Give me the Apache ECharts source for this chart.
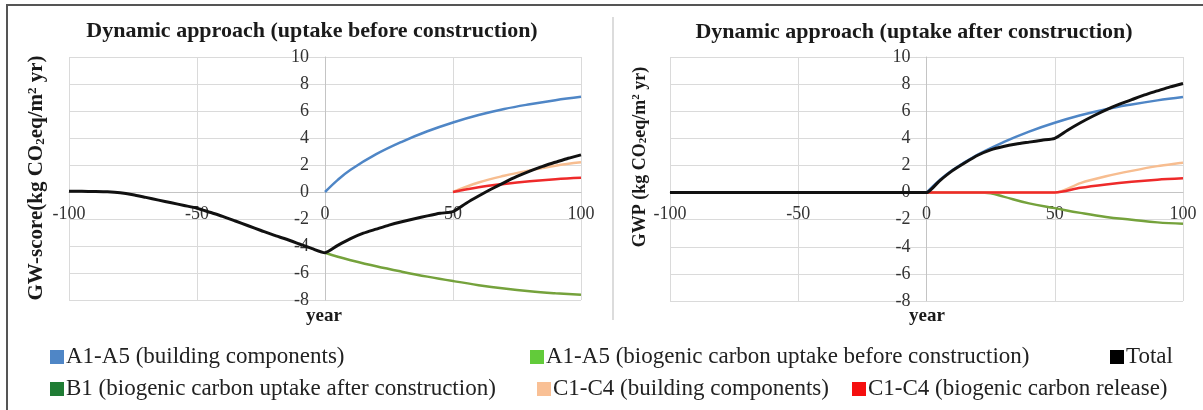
<!DOCTYPE html>
<html>
<head>
<meta charset="utf-8">
<title>Dynamic approach</title>
<script src="https://cdn.jsdelivr.net/npm/echarts/dist/echarts.min.js"></script>
<style>
  html, body { margin: 0; padding: 0; background: #fff; }
  #chart { width: 1203px; height: 410px; }
</style>
</head>
<body>
<div id="chart"></div>
<script>
// years on the x axis
const yearsTotal = [-100, -95, -90, -85, -80, -75, -70, -65, -60, -55, -50, -45, -40, -35, -30, -25, -20, -15, -10, -5,
  0, 5, 10, 15, 20, 25, 30, 35, 40, 45, 50, 55, 60, 65, 70, 75, 80, 85, 90, 95, 100];
const yearsBuild = [0, 5, 10, 20, 30, 40, 50, 60, 70, 80, 90, 100];
const yearsB1 = [0, 10, 20, 25, 30, 40, 50, 60, 70, 80, 90, 100];
const yearsEol = [50, 60, 70, 80, 90, 100];
const yearsEolFull = [0, 50, 60, 70, 80, 90, 100];

// kg CO2eq/m2 yr
const a1a5Building = [0, 0.9, 1.65, 2.8, 3.72, 4.5, 5.15, 5.7, 6.15, 6.5, 6.8, 7.05];
const a1a5UptakeBefore = [-4.5, -4.8, -5.05, -5.5, -5.9, -6.27, -6.6, -6.9, -7.15, -7.35, -7.5, -7.62];
const b1UptakeAfter = [0, 0, 0, -0.05, -0.3, -0.8, -1.15, -1.5, -1.8, -2.0, -2.2, -2.3];
const c1c4Building = [0, 0.7, 1.2, 1.6, 1.95, 2.2];
const c1c4Release = [0, 0.35, 0.6, 0.8, 0.95, 1.05];
const c1c4BuildingFull = [0, 0, 0.7, 1.2, 1.6, 1.95, 2.2];
const c1c4ReleaseFull = [0, 0, 0.35, 0.6, 0.8, 0.95, 1.05];
const totalBefore = [0.05, 0.05, 0.04, 0.02, -0.05, -0.2, -0.4, -0.6, -0.8, -1.0, -1.2, -1.5, -1.8, -2.15, -2.5, -2.85, -3.2, -3.5, -3.85, -4.2,
  -4.5, -3.95, -3.45, -3.05, -2.75, -2.45, -2.2, -1.98, -1.77, -1.58, -1.45, -0.85, -0.3, 0.22, 0.7, 1.15, 1.55, 1.9, 2.2, 2.5, 2.75];
const totalAfter = [0, 0, 0, 0, 0, 0, 0, 0, 0, 0, 0, 0, 0, 0, 0, 0, 0, 0, 0, 0,
  0, 0.85, 1.6, 2.2, 2.75, 3.15, 3.4, 3.58, 3.72, 3.86, 4.0, 4.6, 5.15, 5.65, 6.1, 6.5, 6.85, 7.2, 7.5, 7.8, 8.05];

const titles = ['Dynamic approach (uptake before construction)', 'Dynamic approach (uptake after construction)'];
const names = {
  build: 'A1-A5 (building components)',
  before: 'A1-A5 (biogenic carbon uptake before construction)',
  total: 'Total',
  after: 'B1 (biogenic carbon uptake after construction)',
  eol: 'C1-C4 (building components)',
  release: 'C1-C4 (biogenic carbon release)'
};

const serif = 'Liberation Serif';
const lineColors = { build: '#4f86c6', green: '#75a23c', eol: '#f7bd90', release: '#ee2a2a', total: '#111111' };
const iconColors = { build: '#4f86c6', before: '#62cb3a', total: '#000000', after: '#1f7c34', eol: '#f9c095', release: '#f50f0f' };

function pairs (xs, ys) {
  return xs.map((x, i) => [x, ys[i]]);
}

function line (name, xs, ys, idx, color, width, smooth) {
  return {
    name: name,
    type: 'line',
    xAxisIndex: idx,
    yAxisIndex: idx,
    data: pairs(xs, ys),
    symbol: 'none',
    smooth: smooth,
    lineStyle: { color: color, width: width },
    itemStyle: { color: color },
    emphasis: { disabled: true }
  };
}

// the axes cross at (0, 0): shift them into the plot with offset
function xAxis (idx, shift) {
  return {
    type: 'value', gridIndex: idx, min: -100, max: 100, interval: 50, offset: shift,
    axisLine: { onZero: false, lineStyle: { color: '#c4c4c4', width: 1 } },
    axisTick: { show: false },
    axisLabel: { fontFamily: serif, fontSize: 18, color: '#333', margin: 13 },
    splitLine: { show: true, lineStyle: { color: '#dadada' } }
  };
}

function yAxis (idx, shift) {
  return {
    type: 'value', gridIndex: idx, min: -8, max: 10, interval: 2, offset: shift,
    axisLine: { onZero: false, lineStyle: { color: '#c4c4c4', width: 1 } },
    axisTick: { show: false },
    axisLabel: { fontFamily: serif, fontSize: 18, color: '#333', margin: 16 },
    splitLine: { show: true, lineStyle: { color: '#dadada' } }
  };
}

function legendItem (key, left, top) {
  return {
    left: left, top: top, padding: 0, icon: 'rect', itemWidth: 14, itemHeight: 14, itemGap: 0,
    selectedMode: false,
    textStyle: { fontFamily: serif, fontSize: 23, color: '#222', lineHeight: 24, padding: [0, 0, 0, -3] },
    data: [{ name: names[key], itemStyle: { color: iconColors[key] } }]
  };
}

function richName (size) {
  const small = Math.round(size * 0.62);
  return {
    sub: { fontFamily: serif, fontWeight: 'bold', fontSize: small, fill: '#1a1a1a', verticalAlign: 'bottom' },
    sup: { fontFamily: serif, fontWeight: 'bold', fontSize: small, fill: '#1a1a1a', verticalAlign: 'top' }
  };
}

function yName (text, x, y, size) {
  return {
    type: 'text', x: x, y: y, rotation: Math.PI / 2, silent: true,
    style: {
      text: text, fontFamily: serif, fontWeight: 'bold', fontSize: size, fill: '#1a1a1a',
      align: 'center', verticalAlign: 'middle', rich: richName(size)
    }
  };
}

function yearLabel (x) {
  return {
    type: 'text', x: x, y: 316, silent: true,
    style: { text: 'year', fontFamily: serif, fontWeight: 'bold', fontSize: 19, fill: '#1a1a1a', align: 'center', verticalAlign: 'middle' }
  };
}

const chart = echarts.init(document.getElementById('chart'), null, { renderer: 'canvas' });

const option = {
  animation: false,
  backgroundColor: '#fff',
  title: [
    { text: titles[0], left: 312, top: 20, padding: 0, textAlign: 'center',
      textStyle: { fontFamily: serif, fontWeight: 'bold', fontSize: 22, color: '#1a1a1a' } },
    { text: titles[1], left: 914, top: 21, padding: 0, textAlign: 'center',
      textStyle: { fontFamily: serif, fontWeight: 'bold', fontSize: 22, color: '#1a1a1a' } }
  ],
  grid: [
    { left: 69, top: 57, width: 512, height: 243 },
    { left: 670, top: 57, width: 513, height: 244 }
  ],
  xAxis: [xAxis(0, -108), xAxis(1, -108.4)],
  yAxis: [yAxis(0, -256), yAxis(1, -256.5)],
  legend: [
    legendItem('build', 50, 345),
    legendItem('before', 530, 345),
    legendItem('total', 1110, 345),
    legendItem('after', 50, 377),
    legendItem('eol', 537, 377),
    legendItem('release', 852, 377)
  ],
  graphic: [
    { type: 'rect', silent: true, shape: { x: 7, y: 5, width: 1250, height: 450 },
      style: { fill: 'none', stroke: '#555', lineWidth: 2 } },
    { type: 'line', silent: true, shape: { x1: 613, y1: 17, x2: 613, y2: 320 },
      style: { stroke: '#d0d0d0', lineWidth: 1.5 } },
    yName('GW-score(kg CO{sub|2}eq/m{sup|2} yr)', 37, 178, 21),
    yName('GWP (kg CO{sub|2}eq/m{sup|2} yr)', 640, 157, 18),
    yearLabel(324),
    yearLabel(927)
  ],
  series: [
    // uptake before construction
    line(names.build, yearsBuild, a1a5Building, 0, lineColors.build, 2.5, 0.4),
    line(names.before, yearsBuild, a1a5UptakeBefore, 0, lineColors.green, 2.5, 0.4),
    line(names.eol, yearsEol, c1c4Building, 0, lineColors.eol, 2.5, 0.4),
    line(names.release, yearsEol, c1c4Release, 0, lineColors.release, 2.5, 0.4),
    line(names.total, yearsTotal, totalBefore, 0, lineColors.total, 3, 0.2),
    // uptake after construction
    line(names.build, yearsBuild, a1a5Building, 1, lineColors.build, 2.5, 0.4),
    line(names.after, yearsB1, b1UptakeAfter, 1, lineColors.green, 2.5, 0.4),
    line(names.eol, yearsEolFull, c1c4BuildingFull, 1, lineColors.eol, 2.5, 0.3),
    line(names.release, yearsEolFull, c1c4ReleaseFull, 1, lineColors.release, 2.5, 0.3),
    line(names.total, yearsTotal, totalAfter, 1, lineColors.total, 3, 0.2)
  ]
};

chart.setOption(option);
</script>
</body>
</html>
